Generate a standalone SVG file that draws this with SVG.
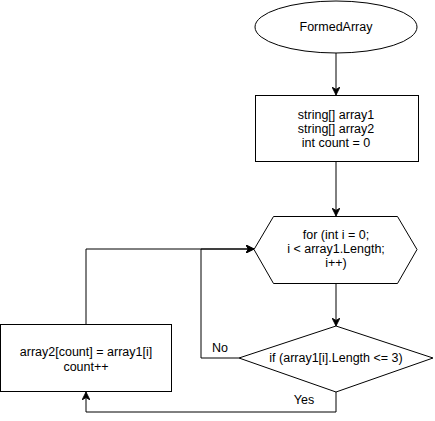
<svg xmlns="http://www.w3.org/2000/svg" width="435" height="421" viewBox="0 0 435 421">
<style>
.shape{fill:#ffffff;stroke:#000000;stroke-width:1}
.edge{fill:none;stroke:#000000;stroke-width:1}
text{font-family:"Liberation Sans",Arial,sans-serif;font-size:12.5px;fill:#000000;text-anchor:middle}
</style>
<defs>
<marker id="arr" viewBox="0 0 10 10" refX="10" refY="5" markerWidth="8" markerHeight="8" markerUnits="userSpaceOnUse" orient="auto">
<path d="M0,0 L10,5 L0,10 L3,5 Z" fill="#000000" stroke="#000000" stroke-width="1"/>
</marker>
</defs>
<rect width="435" height="421" fill="#ffffff"/>
<g id="connectors">
<path class="edge" d="M336,53 L336,95" marker-end="url(#arr)"/>
<path class="edge" d="M336,162 L336,216" marker-end="url(#arr)"/>
<path class="edge" d="M336,283 L336,326" marker-end="url(#arr)"/>
<path class="edge" d="M239,358 L201,358 L201,249 L254,249" marker-end="url(#arr)"/>
<path class="edge" d="M336,392 L336,412 L86,412 L86,392" marker-end="url(#arr)"/>
<path class="edge" d="M86,324 L86,249 L254,249" marker-end="url(#arr)"/>
<text x="220" y="352">No</text>
<text x="304" y="404">Yes</text>
</g>
<g id="start">
<ellipse class="shape" cx="336" cy="27" rx="81" ry="26"/>
<text x="336" y="31">FormedArray</text>
</g>
<g id="init">
<rect class="shape" x="255.5" y="95.5" width="163" height="66"/>
<text x="336" y="119">string[] array1</text>
<text x="336" y="133">string[] array2</text>
<text x="336" y="147">int count = 0</text>
</g>
<g id="loop">
<polygon class="shape" points="254,249.5 273.5,216.5 397.5,216.5 417,249.5 397.5,283.5 273.5,283.5"/>
<text x="336" y="239">for (int i = 0;</text>
<text x="336" y="253">i &lt; array1.Length;</text>
<text x="336" y="267">i++)</text>
</g>
<g id="condition">
<polygon class="shape" points="239,358 336,326 433,358 336,392"/>
<text x="336" y="362">if (array1[i].Length &lt;= 3)</text>
</g>
<g id="assign">
<rect class="shape" x="0.5" y="324.5" width="171" height="67"/>
<text x="86" y="356">array2[count] = array1[i]</text>
<text x="86" y="371">count++</text>
</g>
</svg>
